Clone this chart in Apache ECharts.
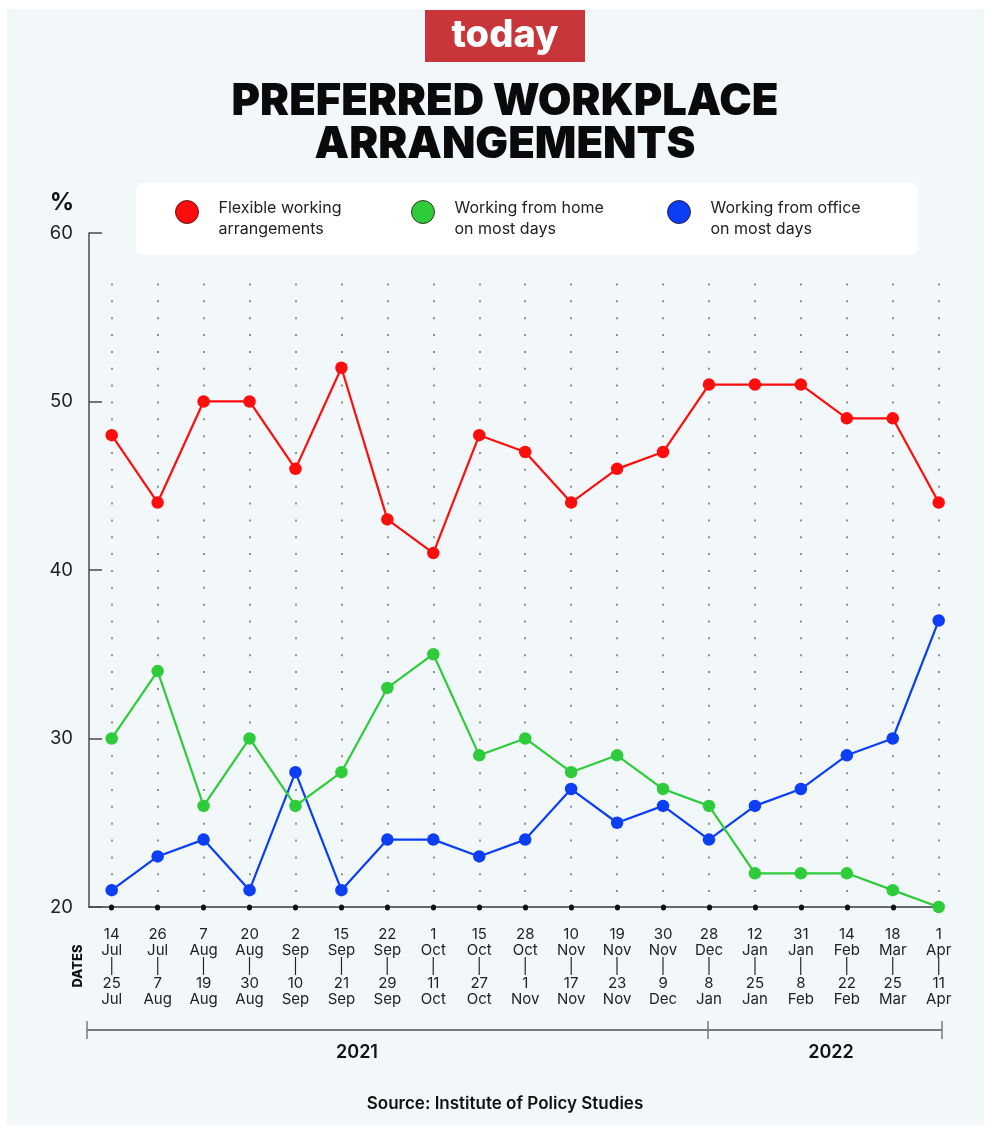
<!DOCTYPE html>
<html>
<head>
<meta charset="utf-8">
<script src="https://cdn.jsdelivr.net/npm/echarts@6/dist/echarts.min.js"></script>
<style>
html,body{margin:0;padding:0;background:#ffffff;}
#chart{width:990px;height:1131px;}
</style>
</head>
<body>
<div id="chart"></div>
<script>
// ---- data ----
const periodStart = ['14 Jul','26 Jul','7 Aug','20 Aug','2 Sep','15 Sep','22 Sep','1 Oct','15 Oct','28 Oct','10 Nov','19 Nov','30 Nov','28 Dec','12 Jan','31 Jan','14 Feb','18 Mar','1 Apr'];
const periodEnd   = ['25 Jul','7 Aug','19 Aug','30 Aug','10 Sep','21 Sep','29 Sep','11 Oct','27 Oct','1 Nov','17 Nov','23 Nov','9 Dec','8 Jan','25 Jan','8 Feb','22 Feb','25 Mar','11 Apr'];
const categories = periodStart.map((s, i) => s + '|' + periodEnd[i]);
const flexible = [48,44,50,50,46,52,43,41,48,47,44,46,47,51,51,51,49,49,44];
const home     = [30,34,26,30,26,28,33,35,29,30,28,29,27,26,22,22,22,21,20];
const office   = [21,23,24,21,28,21,24,24,23,24,27,25,26,24,26,27,29,30,37];
const seriesNames = ['Flexible working arrangements','Working from home on most days','Working from office on most days'];
const legendLabels = ['Flexible working\narrangements','Working from home\non most days','Working from office\non most days'];
const years = ['2021','2022'];

const RED = '#ff0d0d', GREEN = '#2ecb3a', BLUE = '#0b3ef5';
const FONT = 'Inter, "Noto Sans", sans-serif';

const chart = echarts.init(document.getElementById('chart'), null, {renderer:'canvas'});

function legendCfg(i, left) {
  return {
    data: [seriesNames[i]],
    left: left, top: 184.5,
    padding: 0,
    icon: 'circle', itemWidth: 23, itemHeight: 23,
    itemStyle: {borderColor: 'rgba(40,0,0,0.75)', borderWidth: 1},
    formatter: () => '{s| }\n{t|' + legendLabels[i].split('\n').join('}\n{t|') + '}',
    selectedMode: false,
    textStyle: {
      fontFamily: FONT, fontSize: 16, color: '#222', lineHeight: 21,
      rich: {
        s: {fontSize: 1, lineHeight: 13},
        t: {fontFamily: FONT, fontSize: 16, color: '#222', lineHeight: 21, padding: [0, 0, 0, 15]}
      }
    }
  };
}

const option = {
  backgroundColor: '#ffffff',
  animation: false,
  graphic: [
    {type:'rect', silent:true, z:-10, shape:{x:7, y:9, width:977, height:1116}, style:{fill:'#f2f7fa'}},
    {type:'rect', shape:{x:425, y:10, width:160, height:52}, style:{fill:'#c8363a'}},
    {type:'text', style:{x:505, y:36, text:'today', fill:'#ffffff', font:'800 38px ' + FONT, textAlign:'center', textVerticalAlign:'middle'}},
    {type:'text', style:{x:505, y:102, text:'PREFERRED WORKPLACE', fill:'#0a0a0a', font:'900 43.5px ' + FONT, textAlign:'center', textVerticalAlign:'middle'}},
    {type:'text', style:{x:505, y:145, text:'ARRANGEMENTS', fill:'#0a0a0a', font:'900 43.5px ' + FONT, textAlign:'center', textVerticalAlign:'middle'}},
    {type:'rect', z:-5, shape:{x:136, y:183, width:782, height:72, r:8}, style:{fill:'#ffffff'}},
    {type:'text', style:{x:62, y:203, text:'%', fill:'#111', font:'700 24px ' + FONT, textAlign:'center', textVerticalAlign:'middle'}},
    {type:'text', rotation: Math.PI/2, x:78, y:966, style:{x:0, y:0, text:'DATES', fill:'#111', font:'800 13px ' + FONT, textAlign:'center', textVerticalAlign:'middle'}},
    // year bracket
    {type:'line', shape:{x1:87, y1:1030, x2:942, y2:1030}, style:{stroke:'#7a7a7a', lineWidth:2}},
    {type:'line', shape:{x1:87, y1:1021, x2:87, y2:1039}, style:{stroke:'#7a7a7a', lineWidth:1.5}},
    {type:'line', shape:{x1:708, y1:1021, x2:708, y2:1039}, style:{stroke:'#7a7a7a', lineWidth:1.5}},
    {type:'line', shape:{x1:942, y1:1021, x2:942, y2:1039}, style:{stroke:'#7a7a7a', lineWidth:1.5}},
    {type:'text', style:{x:357, y:1053, text:years[0], fill:'#111', font:'600 18px ' + FONT, textAlign:'center', textVerticalAlign:'middle'}},
    {type:'text', style:{x:831, y:1053, text:years[1], fill:'#111', font:'600 18px ' + FONT, textAlign:'center', textVerticalAlign:'middle'}},
    {type:'text', style:{x:505, y:1104, text:'Source: Institute of Policy Studies', fill:'#111', font:'600 17px ' + FONT, textAlign:'center', textVerticalAlign:'middle'}}
  ],
  legend: [legendCfg(0, 175), legendCfg(1, 411), legendCfg(2, 667)],
  grid: [
    {left: 111.7, right: 51.3, top: 283.5, bottom: 224},
    {left: 89, right: 51.3, top: 233, bottom: 224}
  ],
  xAxis: [
    {
      type: 'category', gridIndex: 0, data: categories, boundaryGap: false,
      axisLine: {show: false},
      axisTick: {show: true, alignWithLabel: true, length: 1, inside: false, lineStyle: {color: '#111', width: 5, cap: 'round'}},
      splitLine: {show: true, lineStyle: {color: '#8c9196', width: 2, type: [2, 14.85]}},
      axisLabel: {
        interval: 0, margin: 19,
        fontFamily: FONT, fontSize: 15, color: '#222', lineHeight: 16.3, align: 'center',
        formatter: (v) => { const p = v.split('|'); const a = p[0].split(' '), b = p[1].split(' '); return a[0] + '\n' + a[1] + '\n|\n' + b[0] + '\n' + b[1]; }
      }
    },
    {
      type: 'value', gridIndex: 1, min: 0, max: 1,
      axisLine: {show: true, onZero: false, lineStyle: {color: '#3a3a3a', width: 1.5}},
      axisTick: {show: false}, axisLabel: {show: false}, splitLine: {show: false}
    }
  ],
  yAxis: [
    {type: 'value', gridIndex: 0, min: 20, max: 57, show: false, splitLine: {show: false}},
    {
      type: 'value', gridIndex: 1, min: 20, max: 60, interval: 10,
      axisLine: {show: true, lineStyle: {color: '#4a4a4a', width: 1.5}},
      axisTick: {show: true, inside: true, length: 13, lineStyle: {color: '#4a4a4a', width: 1.5}},
      axisLabel: {margin: 16, fontFamily: FONT, fontSize: 18.5, color: '#222'},
      splitLine: {show: false}
    }
  ],
  series: [
    {name: seriesNames[0], type: 'line', xAxisIndex: 0, yAxisIndex: 0, data: flexible, z: 4,
     symbol: 'circle', symbolSize: 12.5, itemStyle: {color: RED}, lineStyle: {color: RED, width: 2.2}},
    {name: seriesNames[1], type: 'line', xAxisIndex: 0, yAxisIndex: 0, data: home, z: 3,
     symbol: 'circle', symbolSize: 12.5, itemStyle: {color: GREEN}, lineStyle: {color: GREEN, width: 2.2}},
    {name: seriesNames[2], type: 'line', xAxisIndex: 0, yAxisIndex: 0, data: office, z: 2,
     symbol: 'circle', symbolSize: 12.5, itemStyle: {color: BLUE}, lineStyle: {color: BLUE, width: 2.2}}
  ]
};
chart.setOption(option);
</script>
</body>
</html>
